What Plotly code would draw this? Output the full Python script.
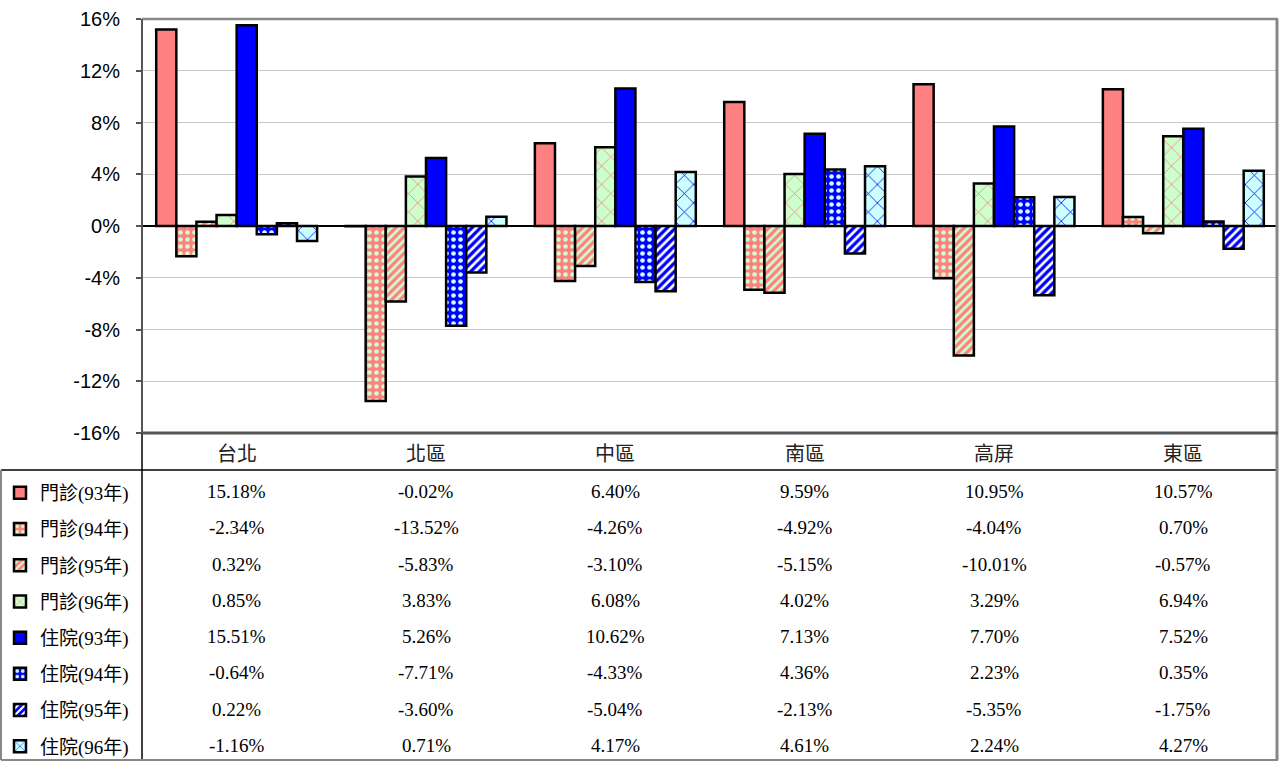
import plotly.graph_objects as go

categories = ["台北", "北區", "中區", "南區", "高屏", "東區"]
series_names = ["門診(93年)", "門診(94年)", "門診(95年)", "門診(96年)",
                "住院(93年)", "住院(94年)", "住院(95年)", "住院(96年)"]
op93 = [15.18, -0.02, 6.40, 9.59, 10.95, 10.57]
op94 = [-2.34, -13.52, -4.26, -4.92, -4.04, 0.70]
op95 = [0.32, -5.83, -3.10, -5.15, -10.01, -0.57]
op96 = [0.85, 3.83, 6.08, 4.02, 3.29, 6.94]
ip93 = [15.51, 5.26, 10.62, 7.13, 7.70, 7.52]
ip94 = [-0.64, -7.71, -4.33, 4.36, 2.23, 0.35]
ip95 = [0.22, -3.60, -5.04, -2.13, -5.35, -1.75]
ip96 = [-1.16, 0.71, 4.17, 4.61, 2.24, 4.27]
series_values = [op93, op94, op95, op96, ip93, ip94, ip95, ip96]
y_ticks = [-16, -12, -8, -4, 0, 4, 8, 12, 16]

PINK = "#FF8080"
GREEN = "#CCFFCC"
BLUE = "#0000FF"
CYAN = "#CCFFFF"
styles = [
    dict(color=PINK, shape="", fg=None, size=8, sol=0.3),
    dict(color=PINK, shape=".", fg=GREEN, size=7, sol=0.35),
    dict(color=PINK, shape="/", fg=GREEN, size=6, sol=0.45),
    dict(color=GREEN, shape="x", fg=PINK, size=13, sol=0.12),
    dict(color=BLUE, shape="", fg=None, size=8, sol=0.3),
    dict(color=BLUE, shape=".", fg=CYAN, size=7, sol=0.35),
    dict(color=BLUE, shape="/", fg="#FFFFFF", size=6, sol=0.45),
    dict(color=CYAN, shape="x", fg=BLUE, size=13, sol=0.12),
]

W, H = 1280, 761
ML, MR, MT, MB = 142, 2, 19, 328
PW = W - ML - MR
PH = H - MT - MB

def py(Y):
    return (H - MB - Y) / PH

def px(X):
    return (X - ML) / PW

SERIF = "Liberation Serif"
CJK = "Noto Sans CJK TC"

def legend_label(name):
    # keep latin parts in serif so they do not inherit the CJK font
    out = []
    for ch in name:
        if ord(ch) < 128:
            out.append(f"<span style='font-family:{SERIF}'>{ch}</span>")
        else:
            out.append(ch)
    return "".join(out)

fig = go.Figure()
for name, vals, st in zip(series_names, series_values, styles):
    pattern = dict(shape=st["shape"])
    if st["shape"]:
        pattern.update(fgcolor=st["fg"], bgcolor=st["color"], size=st["size"],
                       solidity=st["sol"], fillmode="replace")
    fig.add_trace(go.Bar(
        x=categories, y=vals, name=legend_label(name), legendgroup=name,
        marker=dict(color=st["color"], line=dict(color="#000000", width=2.5),
                    pattern=pattern),
        hoverinfo="skip",
    ))

serif = f"{SERIF}, {CJK}, serif"
cjk = f"{CJK}, {SERIF}, serif"

annotations = []
# category row
for c in categories:
    annotations.append(dict(x=c, xref="x", y=py(452), yref="paper", text=c,
                            showarrow=False, xanchor="center", yanchor="middle",
                            font=dict(family=cjk, size=20, color="#222222")))
# data table values
row0 = 491.7
row_step = 36.23
for i, vals in enumerate(series_values):
    for c, v in zip(categories, vals):
        annotations.append(dict(x=c, xref="x", y=py(row0 + i * row_step), yref="paper",
                                text=f"{v:.2f}%", showarrow=False,
                                xanchor="center", yanchor="middle",
                                font=dict(family=serif, size=19, color="#000000")))

shapes = []
def line(x0, y0, x1, y1, color, width):
    shapes.append(dict(type="line", xref="paper", yref="paper",
                       x0=px(x0), y0=py(y0), x1=px(x1), y1=py(y1),
                       line=dict(color=color, width=width), layer="above"))

# table lines
line(1, 470, 1278, 470, "#000000", 1.5)
line(142, 433, 142, 760, "#000000", 1.5)
line(1, 470, 1, 760, "#888888", 2)
line(1, 760, 1278, 760, "#888888", 2)
# chart frame
line(142, 19, 1278, 19, "#888888", 2.5)
line(1277, 19, 1277, 760, "#888888", 3)
line(142, 433, 1278, 433, "#555555", 3)
line(142, 19, 142, 433, "#555555", 2)

fig.update_layout(
    width=W, height=H,
    margin=dict(l=ML, r=MR, t=MT, b=MB, pad=0),
    paper_bgcolor="#FFFFFF", plot_bgcolor="#FFFFFF",
    barmode="group", bargap=0.15, bargroupgap=0,
    showlegend=True,
    legend=dict(x=px(0), y=(H - 474) / H, xanchor="left", yanchor="top",
                xref="paper", yref="container",
                font=dict(family=serif, size=19, color="#000000"),
                tracegroupgap=8.5, itemwidth=30, bgcolor="rgba(0,0,0,0)",
                traceorder="grouped", borderwidth=0),
    xaxis=dict(showticklabels=False, showgrid=False, zeroline=False,
               showline=False, ticks=""),
    yaxis=dict(range=[-16, 16], tickvals=y_ticks,
               ticktext=[f"{t}%" for t in y_ticks],
               tickfont=dict(family="Liberation Sans, Arial, sans-serif", size=20, color="#000000"),
               showgrid=True, gridcolor="#C8C8C8", gridwidth=1,
               zeroline=True, zerolinecolor="#000000", zerolinewidth=1.5,
               ticks="outside", ticklen=5, tickcolor="#555555", tickwidth=1.5,
               showline=False, ticklabelstandoff=12),
    annotations=annotations,
    shapes=shapes,
)

fig.write_html("out.html", config={"displayModeBar": False},
               post_script="document.body.style.margin='0';document.body.style.padding='0';")
